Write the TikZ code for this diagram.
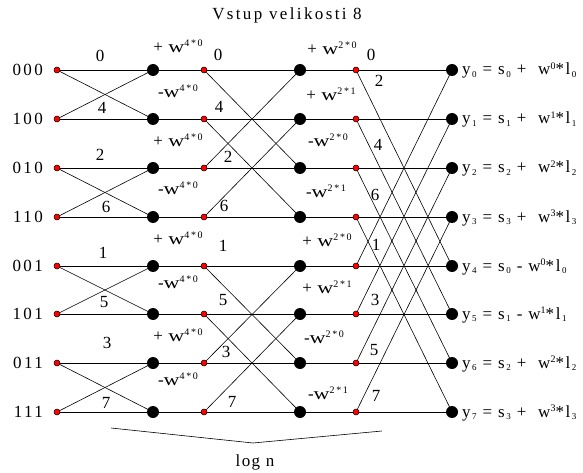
\documentclass[tikz,border=0pt]{standalone}
\usepackage{fontspec}
\setmainfont{Liberation Serif}[LetterSpace=8]
\pgfdeclarelayer{bg}
\pgfsetlayers{bg,main}
% small raised / lowered indices
\newcommand\hiix[1]{\raisebox{0.75ex}{\fontsize{10}{10}\selectfont #1}}
\newcommand\loix[1]{\raisebox{-0.35ex}{\fontsize{9}{9}\selectfont\,#1}}
% the wide w of the twiddle factors
\newcommand\ww{\scalebox{1.3}[1]{w}}
\begin{document}
\begin{tikzpicture}[x=1pt,y=-1pt,
  inp/.style={circle,fill=red,draw=black,line width=0.5pt,inner sep=0pt,minimum size=6pt},
  sum/.style={circle,fill=black,inner sep=0pt,minimum size=12pt},
  wire/.style={line width=0.6pt,black},
  txt/.style={inner sep=0pt,font=\fontsize{17}{19}\selectfont},
  wide/.style={txt,font=\fontsize{17}{19}\selectfont\addfontfeatures{LetterSpace=14}},
  rowlbl/.style={wide,anchor=east},
  outlbl/.style={txt,anchor=base west,font=\fontsize{17}{19}\selectfont\addfontfeatures{LetterSpace=10}}]
\useasboundingbox (0,0) rectangle (583,473);

% title
\node[wide] (title) at (287,15) {Vstup velikosti 8};

% six columns of points
\foreach \i/\y/\bits in {0/70/000,1/119/100,2/168/010,3/217/110,4/266/001,5/314/101,6/363/011,7/412/111}{
  \node[inp] (r\i) at (57,\y) {};
  \node[sum] (a\i) at (153,\y) {};
  \node[inp] (b\i) at (204,\y) {};
  \node[sum] (c\i) at (300,\y) {};
  \node[inp] (d\i) at (356,\y) {};
  \node[sum] (e\i) at (452,\y) {};
  \node[rowlbl] (lab\i) at (43,\y) {\bits};
}

% connectors behind the points
\begin{pgfonlayer}{bg}
  % stage 1: butterflies of neighbouring rows
  \foreach \p in {0,2,4,6}{
    \pgfmathtruncatemacro\q{\p+1}
    \draw[wire] (r\p.center) -- (a\p.center);
    \draw[wire] (r\p.center) -- (a\q.center);
    \draw[wire] (r\q.center) -- (a\p.center);
    \draw[wire] (r\q.center) -- (a\q.center);
  }
  \foreach \i in {0,...,7}{
    \pgfmathtruncatemacro\j{mod(\i+2,4)+4*floor(\i/4)}
    \pgfmathtruncatemacro\k{mod(\i+4,8)}
    \draw[wire] (a\i.center) -- (b\i.center);
    \draw[wire] (b\i.center) -- (c\i.center);
    \draw[wire] (b\i.center) -- (c\j.center);
    \draw[wire] (c\i.center) -- (d\i.center);
    \draw[wire] (d\i.center) -- (e\i.center);
    \draw[wire] (d\i.center) -- (e\k.center);
  }
\end{pgfonlayer}

% indices on the first stage
\foreach \t/\x/\y [count=\n] in {0/100/56,4/102/108,2/100/155,6/106/207,1/103/253,5/104/302,3/107/343,7/106/403}
  \node[txt] (ia\n) at (\x,\y) {\t};
% indices after the second column of sums
\foreach \t/\x/\y [count=\n] in {0/218/55,4/219/107,2/228/157,6/224/206,1/223/246,5/223/300,3/226/352,7/232/402}
  \node[txt] (ib\n) at (\x,\y) {\t};
% indices after the third column of sums
\foreach \t/\x/\y [count=\n] in {0/371/55,2/379/81,4/378/145,6/375/195,1/376/245,3/375/300,5/374/350,7/376/396}
  \node[txt] (ic\n) at (\x,\y) {\t};

% twiddle factors, first stage
\foreach \s/\y [count=\n] in {+ /46,-/91,+ /140,-/188,+ /238,-/282,+ /335,-/379}
  \node[txt] (wa\n) at (178,\y) {\s\ww\hiix{4\,*\,0}};
% twiddle factors, second stage
\foreach \s/\e/\x/\y [count=\n] in {+ /0/332/48,+ /1/331/94,-/0/328/140,-/1/326/191,+ /0/327/240,+ /1/327/287,-/0/324/337,-/1/328/393}
  \node[txt] (wb\n) at (\x,\y) {\s\ww\hiix{2\,*\,\e}};

% outputs
\node[outlbl] (y0) at (462,75) {y\loix{0} = s\loix{0} + \ w\hiix{0}*l\loix{0}};
\node[outlbl] (y1) at (462,124) {y\loix{1} = s\loix{1} + \ w\hiix{1}*l\loix{1}};
\node[outlbl] (y2) at (462,173) {y\loix{2} = s\loix{2} + \ w\hiix{2}*l\loix{2}};
\node[outlbl] (y3) at (462,222) {y\loix{3} = s\loix{3} + \ w\hiix{3}*l\loix{3}};
\node[outlbl] (y4) at (462,271) {y\loix{4} = s\loix{0} - w\hiix{0}*l\loix{0}};
\node[outlbl] (y5) at (462,319) {y\loix{5} = s\loix{1} - w\hiix{1}*l\loix{1}};
\node[outlbl] (y6) at (462,368) {y\loix{6} = s\loix{2} + \ w\hiix{2}*l\loix{2}};
\node[outlbl] (y7) at (462,417) {y\loix{7} = s\loix{3} + \ w\hiix{3}*l\loix{3}};

% brace under the stages
\coordinate (bl) at (111,428);
\coordinate (bm) at (253,443);
\coordinate (br) at (382,431);
\draw[wire] (bl) -- (bm) -- (br);
\node[txt] (logn) at (255,462) {log n};
\end{tikzpicture}
\end{document}
